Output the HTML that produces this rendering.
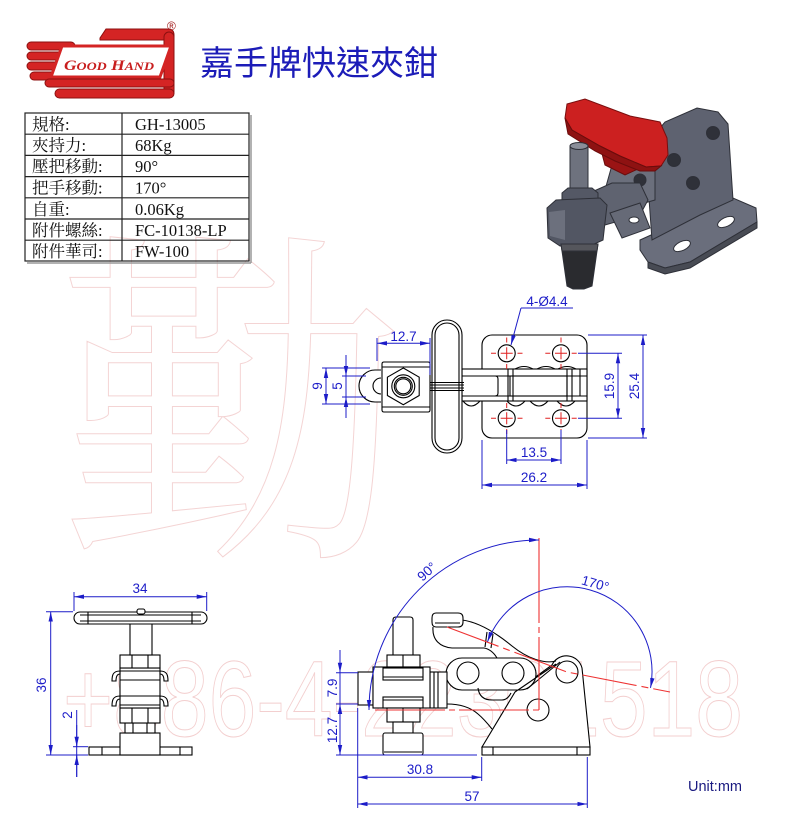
<!DOCTYPE html>
<html><head><meta charset="utf-8"><style>
html,body{margin:0;padding:0;background:#fff;}
svg{display:block;}
</style></head><body>
<svg width="800" height="834" viewBox="0 0 800 834" xmlns="http://www.w3.org/2000/svg">
<defs>
<marker id="ar" viewBox="0 0 10 5" refX="10" refY="2.5" markerWidth="10" markerHeight="5" markerUnits="userSpaceOnUse" orient="auto-start-reverse"><path d="M0,0.3 L10,2.5 L0,4.7z" fill="#1c1cc8"/></marker>
</defs>

<!-- watermarks -->
<text x="58" y="530" font-family="'Noto Serif CJK SC', serif" font-size="350" fill="none" stroke="#f4d4d4" stroke-width="1">勤</text>
<text x="63" y="736" font-family="'Liberation Sans', sans-serif" font-size="108" textLength="680" lengthAdjust="spacingAndGlyphs" fill="none" stroke="#f3cfcf" stroke-width="1">+886-4-22301518</text>

<!-- logo -->
<g fill="#d42424" stroke="#8c1010" stroke-width="1">
<path d="M100,38 L106,29 L168,29 Q174,29 174,35 L174,40 L100,40 Z"/>
<rect x="164" y="32" width="10" height="65" rx="5"/>
<rect x="27" y="42" width="48" height="8" rx="4"/>
<rect x="27" y="52" width="40" height="8" rx="4"/>
<rect x="27" y="62" width="38" height="8" rx="4"/>
<rect x="30" y="72" width="40" height="8" rx="4"/>
<rect x="45" y="79" width="129" height="8" rx="4"/>
<rect x="55" y="89" width="119" height="9" rx="4.5"/>
</g>
<polygon points="62,46 171,46 160,77 51,77" fill="#fff" stroke="#d42424" stroke-width="3"/>
<text x="64" y="70" font-family="'Liberation Serif', serif" font-style="italic" font-weight="bold" font-size="15" fill="#c81e1e" textLength="90" lengthAdjust="spacingAndGlyphs">G<tspan font-size="12">OOD</tspan> H<tspan font-size="12">AND</tspan></text>
<text x="167" y="30" font-family="'Liberation Sans', sans-serif" font-size="12" fill="#a01818">®</text>

<!-- title -->
<text x="200" y="75" font-family="'Liberation Sans','Noto Sans CJK TC', sans-serif" font-size="34" fill="#1c1cb8">嘉手牌快速夾鉗</text>

<!-- table -->
<g stroke="#999" stroke-width="1.5" fill="none">
<line x1="251" y1="115" x2="251" y2="263"/>
<line x1="27" y1="263" x2="251" y2="263"/>
</g>
<g stroke="#222" stroke-width="1.2" fill="none">
<rect x="25" y="113" width="224" height="148"/>
<line x1="122" y1="113" x2="122" y2="261"/>
<line x1="25" y1="134.2" x2="249" y2="134.2"/>
<line x1="25" y1="155.4" x2="249" y2="155.4"/>
<line x1="25" y1="176.6" x2="249" y2="176.6"/>
<line x1="25" y1="197.8" x2="249" y2="197.8"/>
<line x1="25" y1="219" x2="249" y2="219"/>
<line x1="25" y1="240.2" x2="249" y2="240.2"/>
</g>
<g font-family="'Liberation Serif','Noto Serif CJK SC', serif" font-size="16.5" fill="#111">
<text x="32" y="130">規格:</text><text x="135" y="130">GH-13005</text>
<text x="32" y="151">夾持力:</text><text x="135" y="151">68Kg</text>
<text x="32" y="172">壓把移動:</text><text x="135" y="172">90°</text>
<text x="32" y="193.5">把手移動:</text><text x="135" y="193.5">170°</text>
<text x="32" y="215">自重:</text><text x="135" y="215">0.06Kg</text>
<text x="32" y="236">附件螺絲:</text><text x="135" y="236">FC-10138-LP</text>
<text x="32" y="257">附件華司:</text><text x="135" y="257">FW-100</text>
</g>

<!-- photo -->
<g stroke="#2e3038" stroke-width="1">
<polygon points="640,240 733,198 756,208 757,222 690,262 665,268 648,262 640,250" fill="#6a6e7c"/>
<polygon points="648,262 665,268 690,262 757,222 757,228 690,268 665,274 648,268" fill="#484b54"/>
<ellipse cx="682" cy="246" rx="9" ry="4.5" transform="rotate(-25 682 246)" fill="#fff"/>
<ellipse cx="726" cy="222" rx="9" ry="4.5" transform="rotate(-25 726 222)" fill="#fff"/>
<polygon points="648,185 650,140 665,122 697,108 718,112 728,124 733,200 700,215 652,240" fill="#5e6270"/>
<polygon points="612,165 640,160 655,170 655,200 620,210 605,190" fill="#6b6f7c"/>
<circle cx="713" cy="133" r="6.5" fill="#2f3139"/>
<circle cx="693" cy="183" r="6.5" fill="#2f3139"/>
<circle cx="640" cy="180" r="6" fill="#2f3139"/>
<polygon points="600,146 628,152 640,168 625,175 605,165" fill="#9a1414" stroke="#6a0c0c"/>
<polygon points="567,104 585,99 630,116 660,122 667,138 668,155 661,166 646,167 620,156 600,146 572,130 565,118" fill="#cc2020" stroke="#7a0e0e"/>
<polygon points="565,118 572,130 600,146 620,156 646,167 661,166 655,171 640,171 615,161 595,151 568,134" fill="#8e1212" stroke="#6a0c0c"/>
<circle cx="674" cy="160" r="6.5" fill="#2f3139"/>
<polygon points="585,195 612,183 640,183 648,200 640,215 605,225 588,222" fill="#5f6370"/>
<polygon points="610,213 640,203 650,228 622,238" fill="#666a77"/>
<ellipse cx="634" cy="220" rx="5" ry="3" fill="#fff"/>
<rect x="570" y="146" width="18" height="48" fill="#6e727e"/>
<ellipse cx="579" cy="146" rx="9" ry="3.5" fill="#8a8e99"/>
<polygon points="562,193 568,188 592,188 598,193 598,203 592,208 568,208 562,203" fill="#545865"/>
<polygon points="547,208 556,200 600,198 607,205 603,240 590,246 560,246 548,238" fill="#525663"/>
<polygon points="549,212 565,210 565,240 550,236" fill="#6c707d" stroke="none"/>
<polygon points="561,244 598,244 592,286 584,289 573,289 567,286" fill="#2a2b2f"/>
<polygon points="561,244 598,244 597,251 562,251" fill="#55565c"/>
</g>

<!-- TOP VIEW -->
<g stroke="#000" stroke-width="1.1" fill="none">
<rect x="482" y="335" width="105" height="103" rx="10" fill="#fff"/>
<circle cx="506.7" cy="353.3" r="8.5"/>
<circle cx="561" cy="353.3" r="8.5"/>
<circle cx="506.7" cy="418.3" r="8.5"/>
<circle cx="561" cy="418.3" r="8.5"/>
<rect x="462" y="369" width="125" height="32" fill="#fff"/>
<line x1="462" y1="376" x2="587" y2="376"/>
<line x1="462" y1="396" x2="587" y2="396"/>
<path d="M462,376 H495 Q498,376 498,379 V393 Q498,396 495,396 H462"/>
<rect x="510" y="376" width="57" height="20"/>
<line x1="508" y1="369" x2="508" y2="401"/>
<line x1="513" y1="369" x2="513" y2="401"/>
<line x1="567" y1="369" x2="567" y2="401"/>
<line x1="572" y1="369" x2="572" y2="401"/>
<line x1="580" y1="369" x2="580" y2="396"/>
<path d="M463,401 Q471,411 480,401 M507,401 Q516,411 525,401 M530,401 Q539,411 548,401 M557,401 Q566,411 575,401"/>
<path d="M515,369 Q524,364 533,369 M537,369 Q546,364 555,369 M558,369 Q567,364 576,369"/>
<path d="M381,370 L375,370 A16,16 0 0 0 375,402 L381,402" fill="#fff"/>
<path d="M381,378 A8,8 0 0 0 381,394"/>
<path d="M384,362 H428 Q430,362 430,364 V410 Q430,412 428,412 H384 Q382,412 382,410 V364 Q382,362 384,362 Z" fill="#fff"/>
<line x1="382" y1="367" x2="430" y2="367"/>
<line x1="382" y1="407" x2="430" y2="407"/>
<polygon points="403.3,368 419.2,377.2 419.2,395.5 403.3,404.7 387.4,395.5 387.4,377.2" fill="#fff"/>
<circle cx="403.3" cy="386.3" r="11.5"/>
<circle cx="403.3" cy="386.3" r="9"/>
<circle cx="403.3" cy="386.3" r="7.5"/>
<rect x="432" y="320" width="30" height="133" rx="15" fill="#fff"/>
<rect x="435" y="323" width="24" height="127" rx="12"/>
<line x1="430" y1="382.5" x2="464" y2="382.5"/>
<line x1="430" y1="385" x2="464" y2="385"/>
<line x1="430" y1="388" x2="464" y2="388"/>
<line x1="430" y1="390.5" x2="464" y2="390.5"/>
</g>
<g stroke="#e02020" stroke-width="1">
<path d="M500.7,353.3 H512.7 M506.7,347.3 V359.3 M491,353.3 H496 M517.5,353.3 H522.5 M506.7,337.5 V342.5 M506.7,364 V369"/>
<path d="M555,353.3 H567 M561,347.3 V359.3 M545.3,353.3 H550.3 M571.7,353.3 H576.7 M561,337.5 V342.5 M561,364 V369"/>
<path d="M500.7,418.3 H512.7 M506.7,412.3 V424.3 M491,418.3 H496 M517.5,418.3 H522.5 M506.7,403 V408 M506.7,429 V434"/>
<path d="M555,418.3 H567 M561,412.3 V424.3 M545.3,418.3 H550.3 M571.7,418.3 H576.7 M561,403 V408 M561,429 V434"/>
</g>
<g stroke="#1c1cc8" stroke-width="1" fill="none">
<line x1="377" y1="338" x2="377" y2="361"/>
<line x1="430" y1="338" x2="430" y2="375"/>
<line x1="377" y1="343.3" x2="430" y2="343.3" marker-start="url(#ar)" marker-end="url(#ar)"/>
<line x1="322" y1="368" x2="370" y2="368"/>
<line x1="322" y1="404" x2="370" y2="404"/>
<line x1="326" y1="368" x2="326" y2="404" marker-start="url(#ar)" marker-end="url(#ar)"/>
<line x1="342" y1="376" x2="366" y2="376"/>
<line x1="342" y1="397" x2="366" y2="397"/>
<line x1="346" y1="355" x2="346" y2="418"/>
<line x1="346" y1="360" x2="346" y2="376" marker-end="url(#ar)"/>
<line x1="346" y1="413" x2="346" y2="397" marker-end="url(#ar)"/>
<line x1="578" y1="353.3" x2="622" y2="353.3"/>
<line x1="578" y1="418.3" x2="622" y2="418.3"/>
<line x1="618" y1="353.3" x2="618" y2="418.3" marker-start="url(#ar)" marker-end="url(#ar)"/>
<line x1="588" y1="335" x2="647" y2="335"/>
<line x1="588" y1="438" x2="647" y2="438"/>
<line x1="643" y1="335" x2="643" y2="438" marker-start="url(#ar)" marker-end="url(#ar)"/>
<line x1="506.7" y1="430" x2="506.7" y2="464"/>
<line x1="561" y1="430" x2="561" y2="464"/>
<line x1="506.7" y1="460" x2="561" y2="460" marker-start="url(#ar)" marker-end="url(#ar)"/>
<line x1="482" y1="440" x2="482" y2="489"/>
<line x1="587" y1="440" x2="587" y2="489"/>
<line x1="482" y1="485" x2="587" y2="485" marker-start="url(#ar)" marker-end="url(#ar)"/>
<line x1="521" y1="308" x2="573" y2="308"/>
<line x1="521" y1="308" x2="511" y2="345" marker-end="url(#ar)"/>
</g>
<g font-family="'Liberation Sans', sans-serif" font-size="13.5" fill="#1c1cc8" text-anchor="middle">
<text x="403.5" y="341">12.7</text>
<text transform="translate(322,386) rotate(-90)">9</text>
<text transform="translate(342,386) rotate(-90)">5</text>
<text transform="translate(614,386) rotate(-90)">15.9</text>
<text transform="translate(639,386) rotate(-90)">25.4</text>
<text x="534" y="457">13.5</text>
<text x="534" y="482">26.2</text>
<text x="547" y="306">4-Ø4.4</text>
</g>

<!-- FRONT VIEW (left) -->
<g stroke="#000" stroke-width="1.1" fill="#fff">
<rect x="89" y="747" width="103" height="8"/>
<line x1="102" y1="747" x2="102" y2="755"/>
<line x1="180" y1="747" x2="180" y2="755"/>
<rect x="120" y="733" width="40" height="22"/>
<rect x="125" y="723" width="30" height="10"/>
<line x1="133" y1="723" x2="133" y2="733"/>
<line x1="147" y1="723" x2="147" y2="733"/>
<rect x="120" y="708" width="40" height="15"/>
<line x1="132" y1="708" x2="132" y2="723"/>
<line x1="148" y1="708" x2="148" y2="723"/>
<rect x="120" y="668" width="40" height="40"/>
<line x1="120" y1="671" x2="160" y2="671"/>
<line x1="120" y1="680" x2="160" y2="680"/>
<line x1="120" y1="696" x2="160" y2="696"/>
<line x1="120" y1="705" x2="160" y2="705"/>
<path d="M120,671 C113,671 112,675 112,681 L116,681 C116,677 117,674 120,674 Z"/>
<path d="M160,671 C167,671 168,675 168,681 L164,681 C164,677 163,674 160,674 Z"/>
<path d="M120,696 C113,696 112,700 112,706 L116,706 C116,702 117,699 120,699 Z"/>
<path d="M160,696 C167,696 168,700 168,706 L164,706 C164,702 163,699 160,699 Z"/>
<rect x="120" y="655" width="40" height="13"/>
<line x1="132" y1="655" x2="132" y2="668"/>
<line x1="148" y1="655" x2="148" y2="668"/>
<rect x="130" y="617" width="22" height="38"/>
<rect x="74" y="612" width="133" height="12" rx="6"/>
<line x1="80" y1="615" x2="201" y2="615"/>
<line x1="80" y1="621" x2="201" y2="621"/>
<line x1="88" y1="612" x2="88" y2="624"/>
<line x1="192" y1="612" x2="192" y2="624"/>
<rect x="137" y="609" width="8" height="5" rx="2"/>
</g>
<g stroke="#1c1cc8" stroke-width="1" fill="none">
<line x1="74" y1="592" x2="74" y2="611"/>
<line x1="206.7" y1="592" x2="206.7" y2="611"/>
<line x1="74" y1="596.7" x2="206.7" y2="596.7" marker-start="url(#ar)" marker-end="url(#ar)"/>
<line x1="46" y1="611.7" x2="73" y2="611.7"/>
<line x1="46" y1="755" x2="88" y2="755"/>
<line x1="50.7" y1="611.7" x2="50.7" y2="755" marker-start="url(#ar)" marker-end="url(#ar)"/>
<line x1="73" y1="746.7" x2="88" y2="746.7"/>
<line x1="76.7" y1="710" x2="76.7" y2="777"/>
<line x1="76.7" y1="725" x2="76.7" y2="746.7" marker-end="url(#ar)"/>
<line x1="76.7" y1="777" x2="76.7" y2="755" marker-end="url(#ar)"/>
</g>
<g font-family="'Liberation Sans', sans-serif" font-size="13.5" fill="#1c1cc8" text-anchor="middle">
<text x="140" y="593">34</text>
<text transform="translate(46,685) rotate(-90)">36</text>
<text transform="translate(72,715) rotate(-90)">2</text>
</g>

<!-- SIDE VIEW -->
<g stroke="#000" stroke-width="1.1" fill="#fff">
<path d="M482,747 L515,692 L552,665 A16,16 0 0 1 582,668 L590,747 Z"/>
<rect x="482" y="747" width="108" height="8"/>
<line x1="493" y1="747" x2="493" y2="755"/>
<line x1="577" y1="747" x2="577" y2="755"/>
<circle cx="567" cy="672" r="11"/>
<circle cx="538" cy="710" r="11"/>
<path d="M462,658 H520 A16,16 0 0 1 520,690 H462 A16,16 0 0 1 462,658 Z"/>
<circle cx="468" cy="673" r="11"/>
<circle cx="513" cy="673" r="11"/>
<path d="M518,690 L556,664 M527,689 L560,662" fill="none"/>
<path d="M478,688 C479,696 484,700 492,700 L502,700 C506,700 509,697 511,693" fill="none"/>
<path d="M447,704 C460,704 470,707 478,714 C484,719 488,724 492,729" fill="none"/>
<path d="M462,620 C478,622 495,632 512,646 C528,659 545,664 556,661" fill="none"/>
<path d="M433,627 C432,640 440,647 452,648 L484,648 C490,649 494,653 497,658" fill="none"/>
<path d="M487,632 L485,647 M493,634 L491,648" fill="none"/>
<path d="M436,613 L458,613 Q463,613 463,618 L463,622 Q463,627 458,627 L436,627 Q432,627 432,622 L432,618 Q432,613 436,613 Z"/>
<line x1="435" y1="623" x2="460" y2="623"/>
<path d="M393,655 V620 Q393,617 396,617 H410 Q413,617 413,620 V655"/>
<rect x="387" y="655" width="33" height="12"/>
<line x1="403" y1="655" x2="403" y2="667"/>
<rect x="358" y="672" width="15" height="33"/>
<rect x="430" y="672" width="17" height="36"/>
<line x1="434" y1="672" x2="434" y2="708"/>
<line x1="438" y1="672" x2="438" y2="708"/>
<rect x="373" y="667" width="57" height="41"/>
<rect x="383" y="668" width="40" height="12"/>
<line x1="383" y1="677" x2="423" y2="677"/>
<rect x="383" y="697" width="40" height="11"/>
<line x1="383" y1="700" x2="423" y2="700"/>
<rect x="387" y="708" width="33" height="14"/>
<line x1="403" y1="708" x2="403" y2="722"/>
<rect x="393" y="722" width="20" height="11"/>
<rect x="383" y="733" width="40" height="22" rx="2"/>
<line x1="384" y1="752" x2="422" y2="752"/>
</g>
<g stroke="#e33" stroke-width="1.1" fill="none">
<line x1="539" y1="538" x2="539" y2="710" stroke-dasharray="85 4 6 4"/>
<line x1="375" y1="710" x2="539" y2="710" stroke-dasharray="70 4 6 4"/>
<polyline points="447,627 567,672 670,692" stroke-dasharray="55 5 7 5"/>
</g>
<g stroke="#1c1cc8" stroke-width="1" fill="none">
<path d="M539,540 A170,170 0 0 0 369,710" marker-start="url(#ar)" marker-end="url(#ar)"/>
<path d="M487.5,641.8 A85,85 0 0 1 650.5,687.9" marker-start="url(#ar)" marker-end="url(#ar)"/>
<line x1="336" y1="672.7" x2="358" y2="672.7"/>
<line x1="336" y1="704" x2="358" y2="704"/>
<line x1="340" y1="650" x2="340" y2="755"/>
<line x1="340" y1="655" x2="340" y2="672.7" marker-end="url(#ar)"/>
<line x1="340" y1="720" x2="340" y2="704" marker-end="url(#ar)"/>
<line x1="340" y1="735" x2="340" y2="755" marker-end="url(#ar)"/>
<line x1="336" y1="755" x2="477" y2="755"/>
<line x1="357.7" y1="708" x2="357.7" y2="808"/>
<line x1="481.7" y1="757" x2="481.7" y2="781"/>
<line x1="587.3" y1="757" x2="587.3" y2="808"/>
<line x1="357.7" y1="777.3" x2="481.7" y2="777.3" marker-start="url(#ar)" marker-end="url(#ar)"/>
<line x1="357.7" y1="804" x2="587.3" y2="804" marker-start="url(#ar)" marker-end="url(#ar)"/>
</g>
<g font-family="'Liberation Sans', sans-serif" font-size="13.5" fill="#1c1cc8" text-anchor="middle">
<text transform="translate(430,575) rotate(-42)">90°</text>
<text transform="translate(594,588) rotate(16)">170°</text>
<text transform="translate(337,688) rotate(-90)">7.9</text>
<text transform="translate(337,730) rotate(-90)">12.7</text>
<text x="420" y="774">30.8</text>
<text x="472" y="801">57</text>
</g>
<text x="688" y="791" font-family="'Liberation Sans', sans-serif" font-size="14.5" fill="#1a1a80">Unit:mm</text>
</svg>
</body></html>
